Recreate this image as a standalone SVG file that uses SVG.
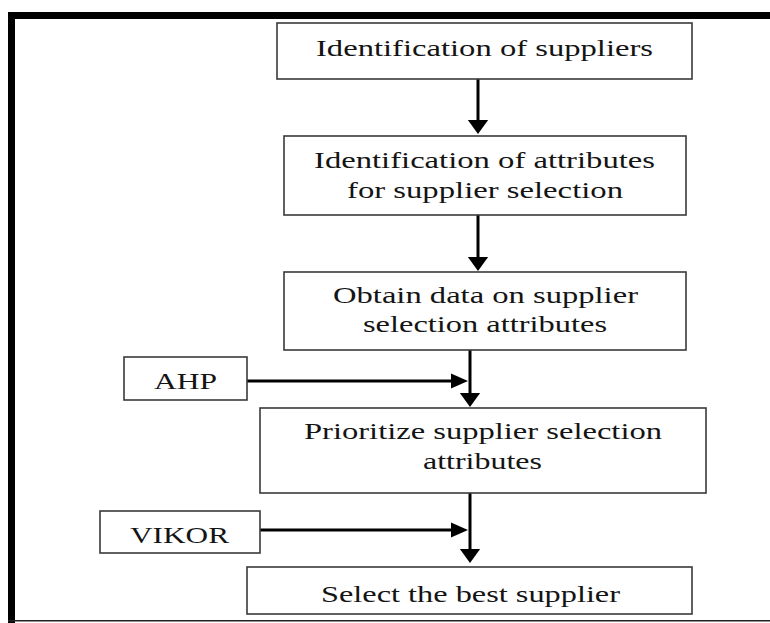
<svg xmlns="http://www.w3.org/2000/svg" width="770" height="623" viewBox="0 0 770 623">
<style>
.box{fill:#fff;stroke:#3a3a3a;stroke-width:1.6}
.t{font-family:"Liberation Serif","Times New Roman",serif;font-size:24px;fill:#141414;text-anchor:middle}
.c{stroke:#000;stroke-width:3;fill:none}
</style>
<defs>
<marker id="ah" markerUnits="userSpaceOnUse" markerWidth="15" markerHeight="22" viewBox="0 0 15 22" refX="8" refY="11" orient="auto">
<path d="M0,0.5 L14.5,11 L0,21.5 z" fill="#000"/>
</marker>
<marker id="ahs" markerUnits="userSpaceOnUse" markerWidth="18" markerHeight="16" viewBox="0 0 18 16" refX="10" refY="8" orient="auto">
<path d="M0,0.5 L17,8 L0,15.5 z" fill="#000"/>
</marker>
</defs>
<rect width="770" height="623" fill="#fff"/>
<g id="frame">
<rect x="8" y="12" width="762" height="7" fill="#000"/>
<rect x="8" y="12" width="7" height="611" fill="#000"/>
<rect x="8" y="620" width="762" height="1.5" fill="#222"/>
</g>
<g id="connectors">
<line class="c" x1="478" y1="79" x2="478" y2="127.5" marker-end="url(#ah)"/>
<line class="c" x1="478" y1="215" x2="478" y2="264.5" marker-end="url(#ah)"/>
<line class="c" x1="470" y1="350" x2="470" y2="400.5" marker-end="url(#ah)"/>
<line class="c" x1="470" y1="493" x2="470" y2="556.5" marker-end="url(#ah)"/>
<line class="c" x1="247" y1="381" x2="461" y2="381" marker-end="url(#ahs)"/>
<line class="c" x1="260" y1="530" x2="461" y2="530" marker-end="url(#ahs)"/>
</g>
<g id="n1">
<rect class="box" x="277" y="23" width="415" height="56"/>
<text class="t" x="484.5" y="56" textLength="337" lengthAdjust="spacingAndGlyphs">Identification of suppliers</text>
</g>
<g id="n2">
<rect class="box" x="284" y="136" width="402" height="79"/>
<text class="t" x="484.5" y="168" textLength="341" lengthAdjust="spacingAndGlyphs">Identification of attributes</text>
<text class="t" x="485" y="198" textLength="276" lengthAdjust="spacingAndGlyphs">for supplier selection</text>
</g>
<g id="n3">
<rect class="box" x="284" y="272" width="402" height="78"/>
<text class="t" x="485.5" y="303" textLength="305" lengthAdjust="spacingAndGlyphs">Obtain data on supplier</text>
<text class="t" x="485" y="332" textLength="244" lengthAdjust="spacingAndGlyphs">selection attributes</text>
</g>
<g id="n4">
<rect class="box" x="260" y="408" width="446" height="85"/>
<text class="t" x="483" y="439" textLength="358" lengthAdjust="spacingAndGlyphs">Prioritize supplier selection</text>
<text class="t" x="482.5" y="469" textLength="119" lengthAdjust="spacingAndGlyphs">attributes</text>
</g>
<g id="n5">
<rect class="box" x="247" y="567" width="445" height="47"/>
<text class="t" x="470.5" y="602" textLength="299" lengthAdjust="spacingAndGlyphs">Select the best supplier</text>
</g>
<g id="ahp">
<rect class="box" x="124" y="357" width="123" height="43"/>
<text class="t" x="185.5" y="389" textLength="63" lengthAdjust="spacingAndGlyphs">AHP</text>
</g>
<g id="vikor">
<rect class="box" x="100" y="511" width="160" height="42"/>
<text class="t" x="179.5" y="543" textLength="99" lengthAdjust="spacingAndGlyphs">VIKOR</text>
</g>
</svg>
